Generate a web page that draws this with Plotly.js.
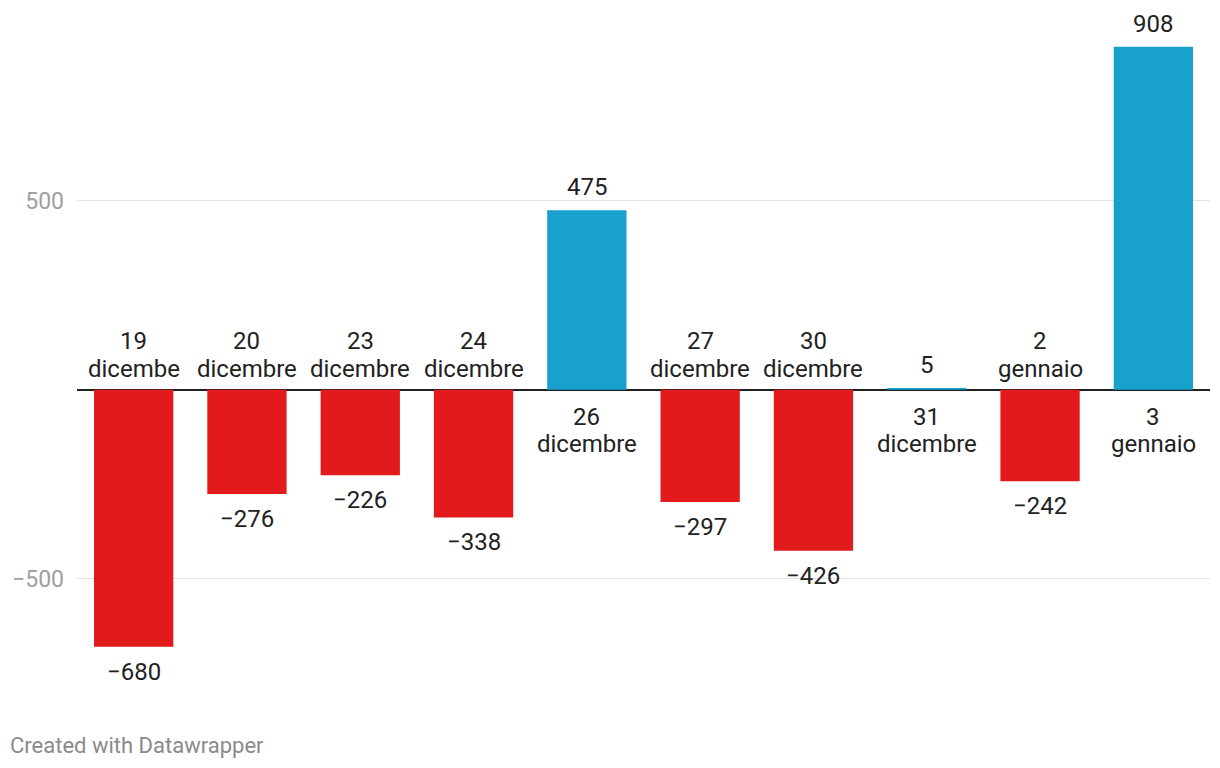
<!DOCTYPE html>
<html>
<head>
<meta charset="utf-8">
<script src="https://cdn.plot.ly/plotly-3.0.1.min.js"></script>
<style>
  html, body { margin: 0; padding: 0; background: #fff; }
  #chart { width: 1220px; height: 768px; }
</style>
</head>
<body>
<div id="chart"></div>
<script>
const dayNumbers = ["19", "20", "23", "24", "26", "27", "30", "31", "2", "3"];
const monthWords = ["dicembe", "dicembre", "dicembre", "dicembre", "dicembre",
                    "dicembre", "dicembre", "dicembre", "gennaio", "gennaio"];
const values = [-680, -276, -226, -338, 475, -297, -426, 5, -242, 908];
const tickValues = [-500, 500];
const tickLabels = ["\u2212500", "500"];
const creditText = "Created with Datawrapper";

const RED = "#e31a1c";
const BLUE = "#18a1cd";
const FONT = "Roboto, 'Noto Sans', sans-serif";

const W = 1220, H = 768;
const M = { l: 77, r: 10, t: 12, b: 76 };

const xs = dayNumbers.map((c, i) => i);
const colors = values.map(v => v < 0 ? RED : BLUE);
const fmt = v => (v < 0 ? "\u2212" + Math.abs(v) : String(v));
const labelFont = { family: FONT, size: 24, color: "#222" };

const annotations = [];
values.forEach((v, i) => {
  const neg = v < 0;
  annotations.push({
    x: i, y: 0, xref: "x", yref: "y", text: dayNumbers[i], showarrow: false,
    yanchor: "middle", yshift: neg ? 49 : -27, font: labelFont
  });
  annotations.push({
    x: i, y: 0, xref: "x", yref: "y", text: monthWords[i], showarrow: false,
    yanchor: "middle", yshift: neg ? 21 : -54, font: labelFont
  });
  annotations.push({
    x: i, y: v, xref: "x", yref: "y", text: fmt(v), showarrow: false,
    yanchor: "middle", yshift: neg ? -25 : 23, font: labelFont
  });
});
const pw = W - M.l - M.r, ph = H - M.t - M.b;
annotations.push({
  x: (8 - M.l) / pw, y: (H - M.b - 745) / ph, xref: "paper", yref: "paper",
  text: creditText, showarrow: false,
  xanchor: "left", yanchor: "middle", font: { family: FONT, size: 22, color: "#8a8a8a" }
});

const trace = {
  type: "bar", x: xs, y: values, marker: { color: colors, line: { width: 0 } },
  hoverinfo: "none"
};

const layout = {
  width: W, height: H,
  margin: M,
  paper_bgcolor: "#fff", plot_bgcolor: "#fff",
  bargap: 0.3,
  showlegend: false,
  xaxis: { range: [-0.5, 9.5], showticklabels: false, showgrid: false, zeroline: false, ticks: "", fixedrange: true },
  yaxis: {
    range: [-800, 1000], tickvals: tickValues, ticktext: tickLabels,
    showgrid: true, gridcolor: "#e2e2e2", gridwidth: 1,
    zeroline: true, zerolinecolor: "#222", zerolinewidth: 2,
    tickfont: { family: FONT, size: 23, color: "#a0a0a0" },
    ticklabelstandoff: 12, ticks: "", layer: "above traces"
  },
  annotations: annotations
};

Plotly.newPlot("chart", [trace], layout, { displayModeBar: false, staticPlot: true });
</script>
</body>
</html>
